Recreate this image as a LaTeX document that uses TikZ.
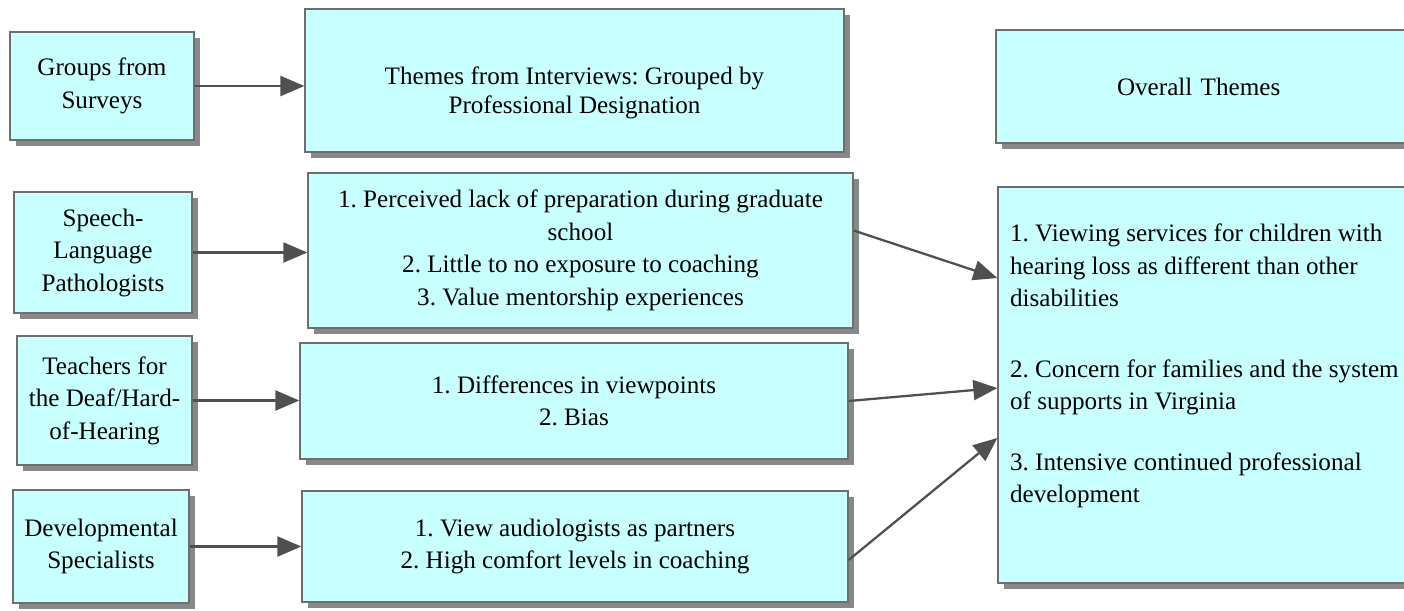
\documentclass[tikz,border=0pt]{standalone}
\usepackage{fontspec}
\setmainfont{Liberation Serif}
\frenchspacing
\usetikzlibrary{arrows.meta,shadows}
\definecolor{boxfill}{HTML}{C8FFFF}
\definecolor{boxline}{HTML}{6E6E6E}
\definecolor{boxshade}{HTML}{888888}
\definecolor{arrowgray}{HTML}{505050}
\tikzset{
  themebox/.style={draw=boxline, line width=0.8pt, fill=boxfill, align=center, inner sep=2pt,
    drop shadow={shadow xshift=0.12cm, shadow yshift=-0.12cm, fill=boxshade, opacity=1}},
  flow/.style={draw=arrowgray, line width=1.3pt, -{Triangle[length=0.48cm, width=0.4cm]}}
}
\begin{document}
\begin{tikzpicture}[x=0.02cm, y=-0.02cm, font=\fontsize{14.3}{18.5}\selectfont]
  % page frame
  \clip (0,0) rectangle (1404,610);
  % header row
  \node[themebox, minimum width=3.68cm, minimum height=2.16cm] (grp) at (102,86) {Groups from\\Surveys};
  \node[themebox, minimum width=10.78cm, minimum height=2.86cm] (thm) at (574.5,80.5) {\rule{0pt}{0.85cm}Themes from Interviews: Grouped by\\[-2pt]Professional Designation};
  \node[themebox, align=left, text width=3.64cm, inner xsep=2.42cm, minimum height=2.26cm] (ovr) at (1208,86.5) {Overall Themes};
  % survey groups
  \node[themebox, minimum width=3.56cm, minimum height=2.42cm] (spl) at (103,252.5) {Speech-\\Language\\Pathologists};
  \node[themebox, minimum width=3.5cm, minimum height=2.58cm] (tdh) at (104.5,400.5) {Teachers for\\the Deaf/Hard-\\of-Hearing};
  \node[themebox, minimum width=3.52cm, minimum height=2.26cm] (dev) at (101,546.5) {Developmental\\Specialists};
  % interview themes
  \node[themebox, minimum width=10.9cm, minimum height=3.1cm] (mid1) at (580.5,250.5) {1. Perceived lack of preparation during graduate\\school\\2. Little to no exposure to coaching\\3. Value mentorship experiences};
  \node[themebox, minimum width=10.96cm, minimum height=2.32cm] (mid2) at (574,401) {1. Differences in viewpoints\\2. Bias};
  \node[themebox, minimum width=10.92cm, minimum height=2.22cm] (mid3) at (575,546.5) {1. View audiologists as partners\\2. High comfort levels in coaching};
  % overall themes
  \node[themebox, inner xsep=0.24cm, inner ysep=0.74cm] (big) at (1210,385) {\parbox[c][6.44cm][t]{8cm}{\raggedright
    1. Viewing services for children with\\hearing loss as different than other\\disabilities\\[0.76cm]
    2. Concern for families and the system\\of supports in Virginia\\[0.56cm]
    3. Intensive continued professional\\development}};
  % arrows
  \draw[flow] (grp.east) -- (grp.east -| thm.west);
  \draw[flow] (spl.east) -- (spl.east -| mid1.west);
  \draw[flow] (tdh.east) -- (tdh.east -| mid2.west);
  \draw[flow] (dev.east) -- (dev.east -| mid3.west);
  \draw[flow] ([yshift=0.4cm]mid1.east) -- ([yshift=2.14cm]big.west);
  \draw[flow] (mid2.east) -- ([yshift=-0.06cm]big.west);
  \draw[flow] ([yshift=-0.27cm]mid3.east) -- ([yshift=-1.06cm]big.west);
\end{tikzpicture}
\end{document}
